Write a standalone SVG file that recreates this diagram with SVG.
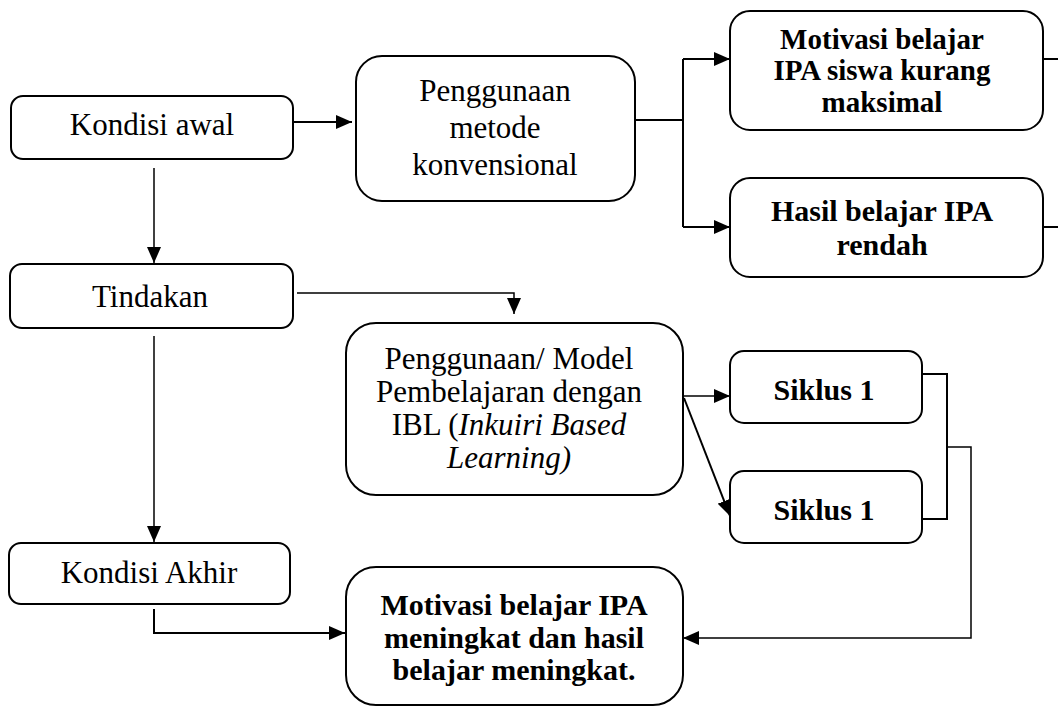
<svg xmlns="http://www.w3.org/2000/svg" width="1058" height="708" viewBox="0 0 1058 708">
<defs>
<style>
.box{fill:#fff;stroke:#000;stroke-width:2}
.t{font-family:"Liberation Serif","Times New Roman",serif;font-size:31px;fill:#000;text-anchor:middle}
.b{font-family:"Liberation Serif","Times New Roman",serif;font-size:30px;font-weight:bold;fill:#000;text-anchor:middle}
.bs{font-size:29px}
.c{fill:none;stroke:#000;stroke-width:2}
.ct{fill:none;stroke:#000;stroke-width:1.5}
</style>
<marker id="ah" markerUnits="userSpaceOnUse" markerWidth="16" markerHeight="14" refX="16" refY="7" orient="auto">
<path d="M0,0 L16,7 L0,14 z" fill="#000"/>
</marker>
</defs>
<rect width="1058" height="708" fill="#fff"/>
<g id="connectors">
<path class="c" d="M293,122 H352" marker-end="url(#ah)"/>
<path class="c" d="M635,120 H683"/>
<path class="c" d="M683,59 V227"/>
<path class="c" d="M683,59 H730" marker-end="url(#ah)"/>
<path class="c" d="M683,227 H730" marker-end="url(#ah)"/>
<path class="c" d="M1043,59 H1058"/>
<path class="c" d="M1043,227 H1058"/>
<path class="ct" d="M154,168 V263" marker-end="url(#ah)"/>
<path class="ct" d="M297,293 H514 V314" marker-end="url(#ah)"/>
<path class="ct" d="M154,336 V542" marker-end="url(#ah)"/>
<path class="ct" d="M683,396 H730" marker-end="url(#ah)"/>
<path class="c" d="M684,398 L730,516" marker-end="url(#ah)"/>
<path class="c" d="M922,374 H947 V519 H922"/>
<path class="ct" d="M947,447 H971 V638 H683" marker-end="url(#ah)"/>
<path class="c" d="M154,609 V633 H345" marker-end="url(#ah)"/>
</g>
<g id="kondisi-awal">
<rect class="box" x="11" y="96" width="282" height="63" rx="12"/>
<text class="t" x="152" y="135">Kondisi awal</text>
</g>
<g id="penggunaan-konvensional">
<rect class="box" x="356" y="56" width="279" height="145" rx="26"/>
<text class="t" x="495" y="101">Penggunaan</text>
<text class="t" x="495" y="138">metode</text>
<text class="t" x="495" y="175">konvensional</text>
</g>
<g id="motivasi-kurang">
<rect class="box" x="730" y="11" width="313" height="119" rx="20"/>
<text class="b bs" x="882" y="49">Motivasi belajar</text>
<text class="b bs" x="882" y="80">IPA siswa kurang</text>
<text class="b bs" x="882" y="112">maksimal</text>
</g>
<g id="hasil-rendah">
<rect class="box" x="730" y="178" width="313" height="99" rx="20"/>
<text class="b" x="882" y="221">Hasil belajar IPA</text>
<text class="b" x="882" y="255">rendah</text>
</g>
<g id="tindakan">
<rect class="box" x="10" y="264" width="283" height="64" rx="12"/>
<text class="t" x="150" y="307">Tindakan</text>
</g>
<g id="ibl">
<rect class="box" x="346" y="323" width="337" height="172" rx="30"/>
<text class="t" x="509" y="369">Penggunaan/ Model</text>
<text class="t" x="509" y="402">Pembelajaran dengan</text>
<text class="t" x="509" y="435">IBL (<tspan font-style="italic">Inkuiri Based</tspan></text>
<text class="t" x="509" y="468" font-style="italic">Learning)</text>
</g>
<g id="siklus-1a">
<rect class="box" x="730" y="351" width="192" height="72" rx="14"/>
<text class="b" x="824" y="400">Siklus 1</text>
</g>
<g id="siklus-1b">
<rect class="box" x="730" y="471" width="192" height="72" rx="14"/>
<text class="b" x="824" y="520">Siklus 1</text>
</g>
<g id="kondisi-akhir">
<rect class="box" x="9" y="543" width="281" height="61" rx="12"/>
<text class="t" x="149" y="583">Kondisi Akhir</text>
</g>
<g id="motivasi-meningkat">
<rect class="box" x="346" y="567" width="337" height="138" rx="30"/>
<text class="b" x="514" y="615">Motivasi belajar IPA</text>
<text class="b" x="514" y="648">meningkat dan hasil</text>
<text class="b" x="514" y="680">belajar meningkat.</text>
</g>
</svg>
